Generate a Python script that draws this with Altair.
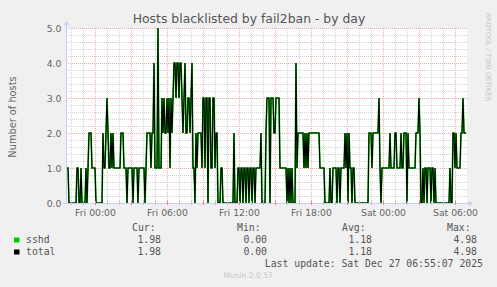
import altair as alt
import pandas as pd

# ---- data (5-minute samples, run-length encoded) ----
start_time = "2025-12-25 21:40"
run_values = [1,0,1,0,1,0,1,0,1,2,1,0,2,1,2,3,2,1,2,1,2,1,2,1,0,1,0,1,0,1,0,1,2,1,2,4,1,5,1,3,
              2,3,2,3,2,3,1,3,2,3,4,3,4,3,4,3,2,3,4,2,3,2,3,4,1,0,2,1,2,1,3,1,3,0,3,1,3,1,2,0,
              1,0,2,0,1,0,1,0,1,0,1,0,1,0,1,0,1,2,0,2,3,0,3,2,3,1,0,1,0,1,0,1,0,4,1,2,1,2,1,2,
              1,2,1,0,1,0,1,0,1,0,1,2,1,2,0,2,1,0,1,0,2,1,2,3,1,0,1,2,1,2,1,2,1,2,0,2,1,2,3,2,
              0,1,0,1,0,1,0,1,0,1,0,1,0,2,1,2,1,2,3,2]
run_lengths = [2,8,2,2,1,4,1,1,1,3,4,7,1,2,1,1,1,2,1,1,1,7,3,3,1,5,1,4,1,6,1,1,4,1,2,1,3,1,3,1,
               1,1,2,1,1,1,1,1,1,1,2,1,2,1,2,1,1,1,1,2,2,1,1,1,2,1,1,1,4,1,2,1,2,1,2,2,2,1,2,3,
               2,11,1,3,2,1,2,1,2,1,2,1,2,1,2,1,5,1,4,1,3,1,3,2,4,7,1,1,1,1,1,1,3,1,1,6,1,1,1,1,
               1,11,5,5,1,2,4,1,2,1,4,1,1,1,1,1,2,1,2,14,3,1,6,1,1,1,8,1,4,2,4,1,2,3,1,1,7,3,1,1,
               2,1,1,2,1,3,1,2,1,1,14,1,2,2,1,1,4,2,1,3]
series_names = ["sshd", "total"]
series_colors = ["#00CC00", "#000000"]
y_ticks = [0, 1, 2, 3, 4, 5]
legend_cur = ["1.98", "1.98"]
legend_min = ["0.00", "0.00"]
legend_avg = ["1.18", "1.18"]
legend_max = ["4.98", "4.98"]
title_text = "Hosts blacklisted by fail2ban - by day"
y_title_text = "Number of hosts"
last_update = "Last update: Sat Dec 27 06:55:07 2025"
footer = "Munin 2.0.57"
side_text = "RRDTOOL / TOBI OETIKER"

# ---- build table ----
vals = []
for v, n in zip(run_values, run_lengths):
    vals += [v] * n
times = pd.date_range(start_time, periods=len(vals), freq="5min")
tstr = [t.strftime("%Y-%m-%dT%H:%M:%S") for t in times]
df = pd.DataFrame({"time": tstr, "sshd": vals, "total": vals})

hours = pd.date_range("2025-12-25 22:00", "2025-12-27 06:00", freq="h")
minor_x = pd.DataFrame({"t": [h.strftime("%Y-%m-%dT%H:%M:%S") for h in hours if h.hour % 3 != 0]})
major_x = pd.DataFrame({"t": [h.strftime("%Y-%m-%dT%H:%M:%S") for h in hours if h.hour % 3 == 0]})
minor_y = pd.DataFrame({"v": [i / 5 for i in range(1, 25) if i % 5 != 0]})
major_y = pd.DataFrame({"v": [1, 2, 3, 4, 5]})

OX, OY = 67, 28
W, H = 400, 175
FONT_COL = "#666666"
AXIS_COL = "#C6CEF6"

xscale = alt.Scale(domain=[alt.DateTime(year=2025, month=12, date=25, hours=21, minutes=40),
                           alt.DateTime(year=2025, month=12, date=27, hours=7, minutes=0)], nice=False)
yscale = alt.Scale(domain=[0, 5], nice=False, zero=True)

xaxis = alt.Axis(values=[alt.DateTime(year=2025, month=12, date=d, hours=h) for d, h in
                         [(26, 0), (26, 6), (26, 12), (26, 18), (27, 0), (27, 6)]],
                 format="%a %H:%M", labelFont="DejaVu Sans", labelFontSize=9.3, labelColor=FONT_COL,
                 domain=False, ticks=False, grid=False, labelPadding=5, title=None, labelFlush=False)
yaxis = alt.Axis(values=y_ticks, format=".1f", labelFont="DejaVu Sans", labelFontSize=9.3,
                 labelColor=FONT_COL, domain=False, ticks=False, grid=False, labelPadding=6, title=None)

X = lambda f: alt.X(f, type="temporal", scale=xscale, axis=xaxis, title=None)
Y = lambda f: alt.Y(f, type="quantitative", scale=yscale, axis=yaxis, title=None)

g_minor_y = alt.Chart(minor_y).mark_rule(color="#D4D4D4", strokeDash=[1, 1], strokeWidth=1, yOffset=0.5).encode(y=Y("v"))
g_minor_x = alt.Chart(minor_x).mark_rule(color="#D4D4D4", strokeDash=[1, 1], strokeWidth=1, xOffset=0.5).encode(x=X("t"))
g_major_y = alt.Chart(major_y).mark_rule(color="#F0A8A8", strokeDash=[1, 1], strokeWidth=1, yOffset=0.5).encode(y=Y("v"))
g_major_x = alt.Chart(major_x).mark_rule(color="#F0A8A8", strokeDash=[1, 1], strokeWidth=1, xOffset=0.5).encode(x=X("t"))

# minor/major ticks along the time axis
t_minor = alt.Chart(minor_x).mark_rule(color="#C0C0C0", strokeWidth=1, xOffset=0.5).encode(
    x=X("t"), y=alt.value(H - 2), y2=alt.value(H + 2))
t_major = alt.Chart(major_x).mark_rule(color="#F08080", strokeWidth=1, xOffset=0.5).encode(
    x=X("t"), y=alt.value(H - 2), y2=alt.value(H + 2))

line_g = alt.Chart(df).mark_line(color=series_colors[0], strokeWidth=1.7, interpolate="linear").encode(x=X("time"), y=Y("sshd"))
line_k = alt.Chart(df).mark_line(color=series_colors[1], strokeWidth=1.1, interpolate="linear").encode(x=X("time"), y=Y("total"))

one = alt.Data(values=[{}])

def txt(s, x, y, size, color=FONT_COL, font="DejaVu Sans", align="left", angle=0):
    return alt.Chart(one).mark_text(fontSize=size, color=color, font=font, align=align,
                                    baseline="middle", angle=angle).encode(
        x=alt.value(x - OX), y=alt.value(y - OY), text=alt.value(s))

def rule(x1, y1, x2, y2, color):
    return alt.Chart(one).mark_rule(color=color, strokeWidth=1).encode(
        x=alt.value(x1 - OX), y=alt.value(y1 - OY), x2=alt.value(x2 - OX), y2=alt.value(y2 - OY))

def box(x1, y1, x2, y2, color):
    return alt.Chart(one).mark_rect(color=color).encode(
        x=alt.value(x1 - OX), y=alt.value(y1 - OY), x2=alt.value(x2 - OX), y2=alt.value(y2 - OY))

def arrow(x, y, shape):
    return alt.Chart(one).mark_point(shape=shape, filled=True, color=AXIS_COL, size=28, opacity=1).encode(
        x=alt.value(x - OX), y=alt.value(y - OY))

axes = [rule(66.5, 204, 66.5, 24, AXIS_COL), rule(63, 203.5, 470, 203.5, AXIS_COL),
        arrow(66.5, 23, "triangle-up"), arrow(471, 203.5, "triangle-right")]

MONO = "DejaVu Sans Mono"
LC = "#555555"
texts = [
    txt(title_text, 249, 19, 12.4, color="#555555", align="center"),
    txt(y_title_text, 13, 117, 9.8, align="center", angle=270),
    txt(side_text, 488, 57, 6.9, color="#C4C4C4", align="center", angle=90),
    txt("Cur:", 132, 228, 9.8, color=LC, font=MONO),
    txt("Min:", 237, 228, 9.8, color=LC, font=MONO),
    txt("Avg:", 342, 228, 9.8, color=LC, font=MONO),
    txt("Max:", 447, 228, 9.8, color=LC, font=MONO),
    txt(last_update, 483, 263.5, 9.8, color=LC, font=MONO, align="right"),
    txt(footer, 248, 276, 7.6, color="#C8C8C8", align="center"),
]

rows_y = [240, 252]
for i, name in enumerate(series_names):
    yy = rows_y[i]
    texts.append(box(14, yy - 2.5, 19.5, yy + 2.5, series_colors[i]))
    texts.append(txt(name, 26, yy, 9.8, color=LC, font=MONO))
    texts.append(txt(legend_cur[i], 161, yy, 9.8, color=LC, font=MONO, align="right"))
    texts.append(txt(legend_min[i], 267, yy, 9.8, color=LC, font=MONO, align="right"))
    texts.append(txt(legend_avg[i], 372, yy, 9.8, color=LC, font=MONO, align="right"))
    texts.append(txt(legend_max[i], 477, yy, 9.8, color=LC, font=MONO, align="right"))

chart = alt.layer(g_minor_y, g_minor_x, g_major_y, g_major_x, line_g, line_k,
                  *axes, t_minor, t_major, *texts).properties(
    width=W, height=H,
    autosize=alt.AutoSizeParams(type="none"),
    padding={"left": OX, "top": OY, "right": 497 - OX - W, "bottom": 287 - OY - H},
    background="#F0F0F0",
).configure_view(fill="white", stroke=None)

chart.save("out.html", embed_options={"renderer": "svg", "actions": False})
